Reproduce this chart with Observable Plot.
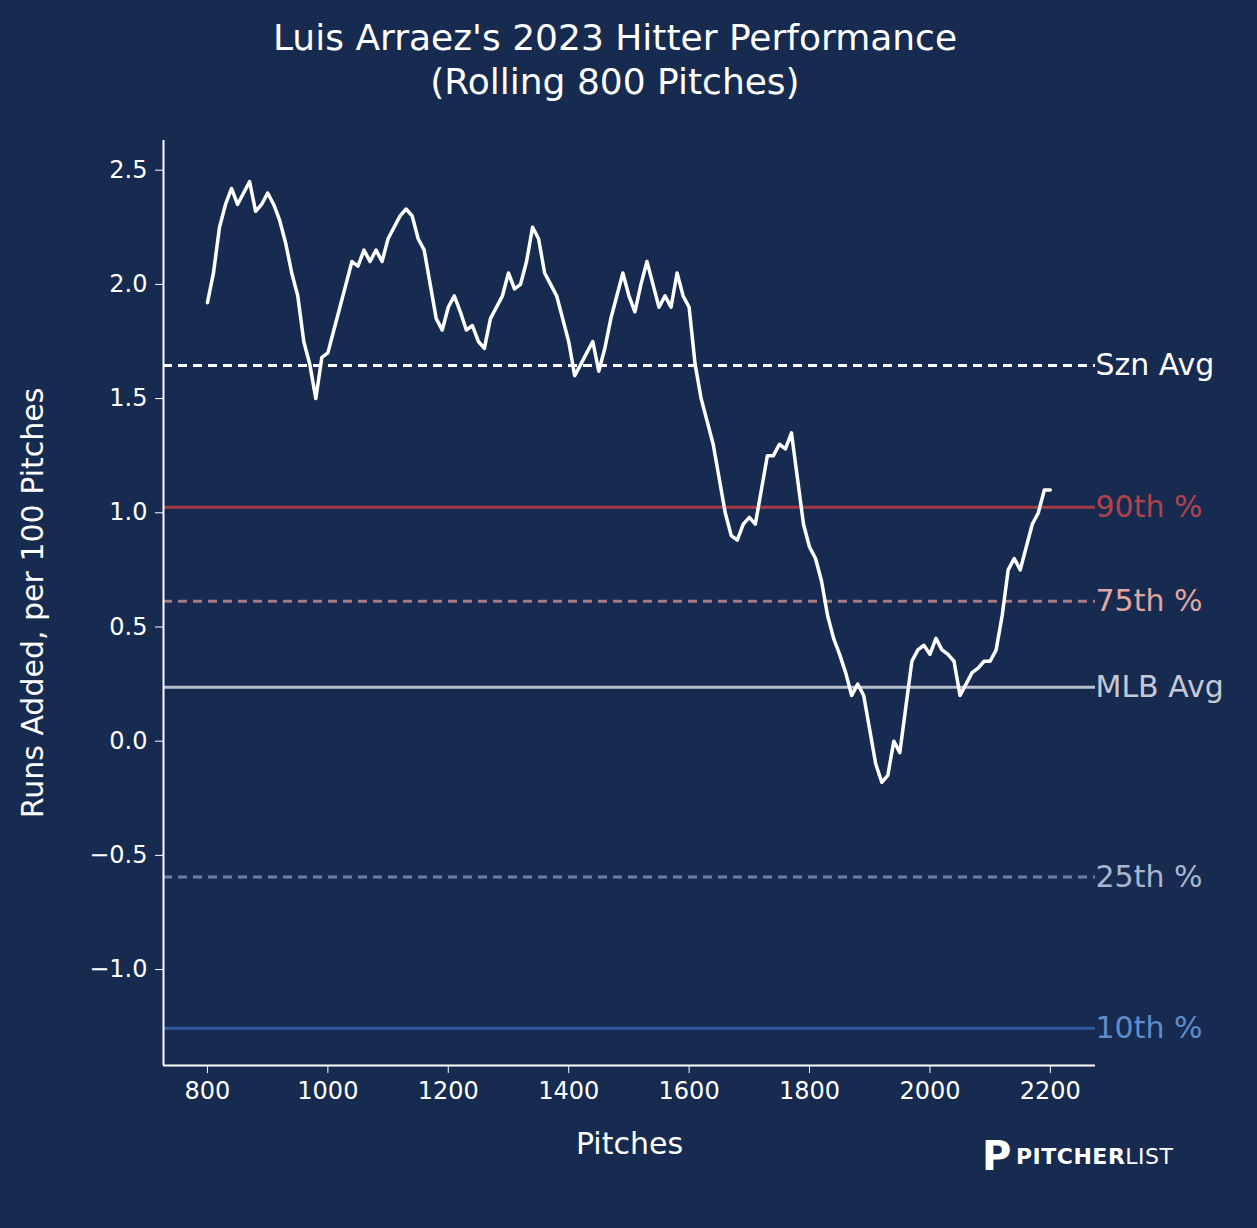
<!DOCTYPE html>
<html><head><meta charset="utf-8">
<script src="https://cdn.jsdelivr.net/npm/d3@7"></script>
<script src="https://cdn.jsdelivr.net/npm/@observablehq/plot@0.6"></script>
<style>
body{margin:0;background:#172a4f;width:1257px;height:1228px;overflow:hidden;font-family:"DejaVu Sans",sans-serif;color:#fff;position:relative}
#title{position:absolute;top:16px;left:0;width:1230px;text-align:center;font-size:36px;line-height:44px}
#chart{position:absolute;top:110px;left:0}
#logo{position:absolute;left:982px;top:1136px;font-size:22px;display:flex;align-items:center;gap:8px;letter-spacing:0.5px}
#logo .p{width:26px;height:40px;border:0;font-weight:900;font-size:40px;line-height:40px}
</style></head><body>
<div id="title">Luis Arraez's 2023 Hitter Performance<br>(Rolling 800 Pitches)</div>
<div id="chart"></div>
<div id="logo"><span class="p">P</span><span><b>PITCHER</b>LIST</span></div>
<script>
const pitches = d3.range(800, 2201, 10);
const runs = [1.92,2.05,2.25,2.35,2.42,2.35,2.40,2.45,2.32,2.35,2.40,2.35,2.28,2.18,2.05,1.95,1.75,1.65,1.50,1.68,1.70,1.80,1.90,2.00,2.10,2.08,2.15,2.10,2.15,2.10,2.20,2.25,2.30,2.33,2.30,2.20,2.15,2.00,1.85,1.80,1.90,1.95,1.88,1.80,1.82,1.75,1.72,1.85,1.90,1.95,2.05,1.98,2.00,2.10,2.25,2.20,2.05,2.00,1.95,1.85,1.75,1.60,1.65,1.70,1.75,1.62,1.72,1.85,1.95,2.05,1.95,1.88,2.00,2.10,2.00,1.90,1.95,1.90,2.05,1.95,1.90,1.65,1.50,1.40,1.30,1.15,1.00,0.90,0.88,0.95,0.98,0.95,1.10,1.25,1.25,1.30,1.28,1.35,1.15,0.95,0.85,0.80,0.70,0.55,0.45,0.38,0.30,0.20,0.25,0.20,0.05,-0.10,-0.18,-0.15,0.00,-0.05,0.15,0.35,0.40,0.42,0.38,0.45,0.40,0.38,0.35,0.20,0.25,0.30,0.32,0.35,0.35,0.40,0.55,0.75,0.80,0.75,0.85,0.95,1.00,1.10,1.10];
const refNames = ["Szn Avg","90th %","75th %","MLB Avg","25th %","10th %"];
const refValues = [1.645,1.024,0.613,0.236,-0.595,-1.257];
const refColors = ["#ffffff","#a63a45","#a97a82","#b8bfcc","#6c7fa3","#2f5aa0"];
const refText = ["#ffffff","#b2434c","#e0a8a4","#c4c9d4","#aab6cf","#5f8dcc"];
const refDash = ["9,6",null,"9,6",null,"9,6",null];
const series = pitches.map((p,i)=>({p, r:runs[i]}));
const refs = refNames.map((n,i)=>({n, v:refValues[i], c:refColors[i], t:refText[i], d:refDash[i]}));
const X0=727, X1=2275, Y0=-1.42, Y1=2.63;
const chart = Plot.plot({
  width:1257, height:1118,
  marginLeft:163, marginRight:162, marginTop:30, marginBottom:163,
  style:{background:"transparent", color:"#fff", fontSize:"24px", fontFamily:"DejaVu Sans, sans-serif"},
  x:{domain:[X0,X1], ticks:[800,1000,1200,1400,1600,1800,2000,2200], label:"Pitches", labelArrow:"none", labelAnchor:"center", labelOffset:88, tickSize:8, tickPadding:8, tickFormat:d=>String(d)},
  y:{domain:[Y0,Y1], ticks:[-1,-0.5,0,0.5,1,1.5,2,2.5], tickFormat:d=>d.toFixed(1).replace("-","−"), label:"Runs Added, per 100 Pitches", labelArrow:"none", labelAnchor:"center", labelOffset:142, tickSize:8, tickPadding:8},
  marks:[
    ...refs.map(r=>Plot.ruleY([r.v],{x1:X0,x2:X1,stroke:r.c,strokeWidth:3,strokeDasharray:r.d})),
    Plot.text(refs,{x:X1,y:"v",text:"n",fill:"t",textAnchor:"start",fontSize:30,dx:0}),
    Plot.line(series,{x:"p",y:"r",stroke:"#fff",strokeWidth:3.5}),
    Plot.ruleX([X0],{y1:Y0,y2:Y1,stroke:"#fff",strokeWidth:2}),
    Plot.ruleY([Y0],{x1:X0,x2:X1,stroke:"#fff",strokeWidth:2})
  ]
});
chart.querySelectorAll("g[aria-label='x-axis label'], g[aria-label='y-axis label']").forEach(e=>e.setAttribute("font-size","30"));
document.getElementById("chart").appendChild(chart);
</script></body></html>
